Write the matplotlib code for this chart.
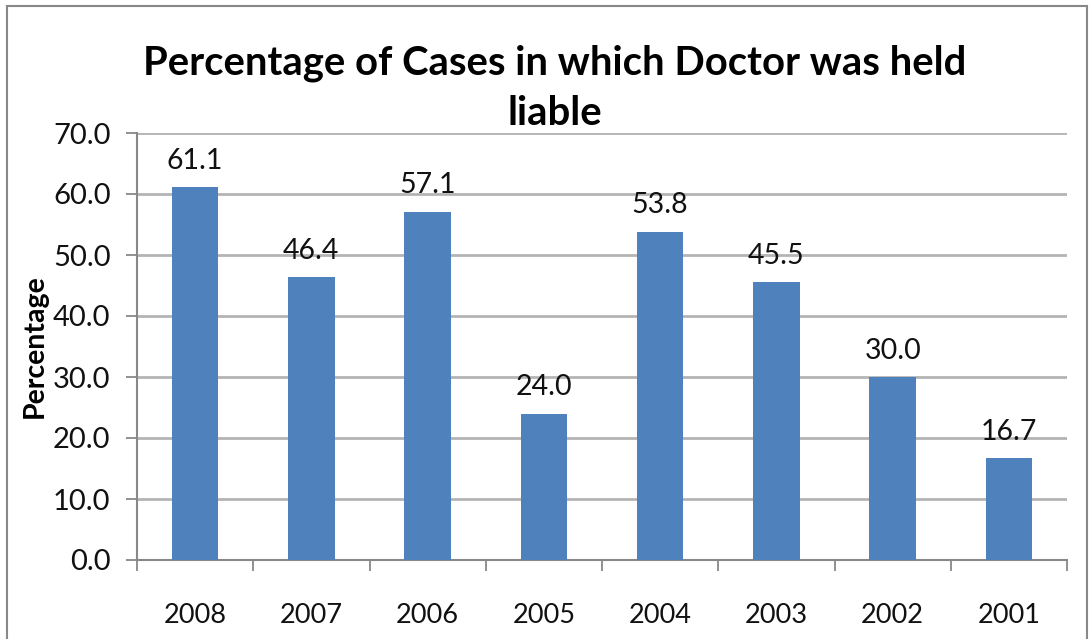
import matplotlib.pyplot as plt
from matplotlib.patches import Rectangle

years = ["2008", "2007", "2006", "2005", "2004", "2003", "2002", "2001"]
percent = [61.1, 46.4, 57.1, 24.0, 53.8, 45.5, 30.0, 16.7]

plt.rcParams['font.family'] = ['Lato', 'DejaVu Sans']

fig = plt.figure(figsize=(10.92, 6.39), dpi=100)
ax = fig.add_axes([137 / 1092, 1 - 560 / 639, 930 / 1092, 427 / 639])

x = range(len(years))
ax.bar(x, percent, width=0.4, color="#4F81BD", zorder=3)
for xi, v in zip(x, percent):
    ax.text(xi, v + 2.2, f"{v:.1f}", ha="center", va="bottom", fontsize=20.5, color="#111111")

ax.set_xlim(-0.5, len(years) - 0.5)
ax.set_ylim(0, 70)
ax.set_yticks(range(0, 71, 10))
ax.set_yticklabels([f"{t:.1f}" for t in range(0, 71, 10)], fontsize=21, color="#111111")
ax.set_xticks([i - 0.5 for i in range(len(years) + 1)])
ax.set_xticklabels([])
ax.set_xticks(list(x), minor=True)
ax.set_xticklabels(years, minor=True, fontsize=19.5, color="#111111")
ax.tick_params(axis="x", which="minor", length=0, pad=31)
ax.tick_params(axis="x", which="major", length=8, width=1.3, color="#888888", direction="out")
ax.tick_params(axis="y", length=8, width=1.3, color="#888888", pad=11)
ax.grid(axis="y", color="#b4b4b4", linewidth=2, zorder=0)

for side in ["top", "right"]:
    ax.spines[side].set_visible(False)
for side in ["left", "bottom"]:
    ax.spines[side].set_color("#888888")
    ax.spines[side].set_linewidth(1.5)

ax.set_ylabel("Percentage", fontsize=20.5, fontweight="bold", labelpad=4)
fig.text(0.508, 1 - 88 / 639, "Percentage of Cases in which Doctor was held\nliable",
         ha="center", va="center", fontsize=28.8, fontweight="bold", linespacing=1.42)

fig.patches.append(Rectangle((7 / 1092, -0.05), 1080 / 1092, 1 - 6 / 639 + 0.05,
                             transform=fig.transFigure, fill=False,
                             edgecolor="#888888", linewidth=1.5))

fig.savefig("out.png", dpi=100)
